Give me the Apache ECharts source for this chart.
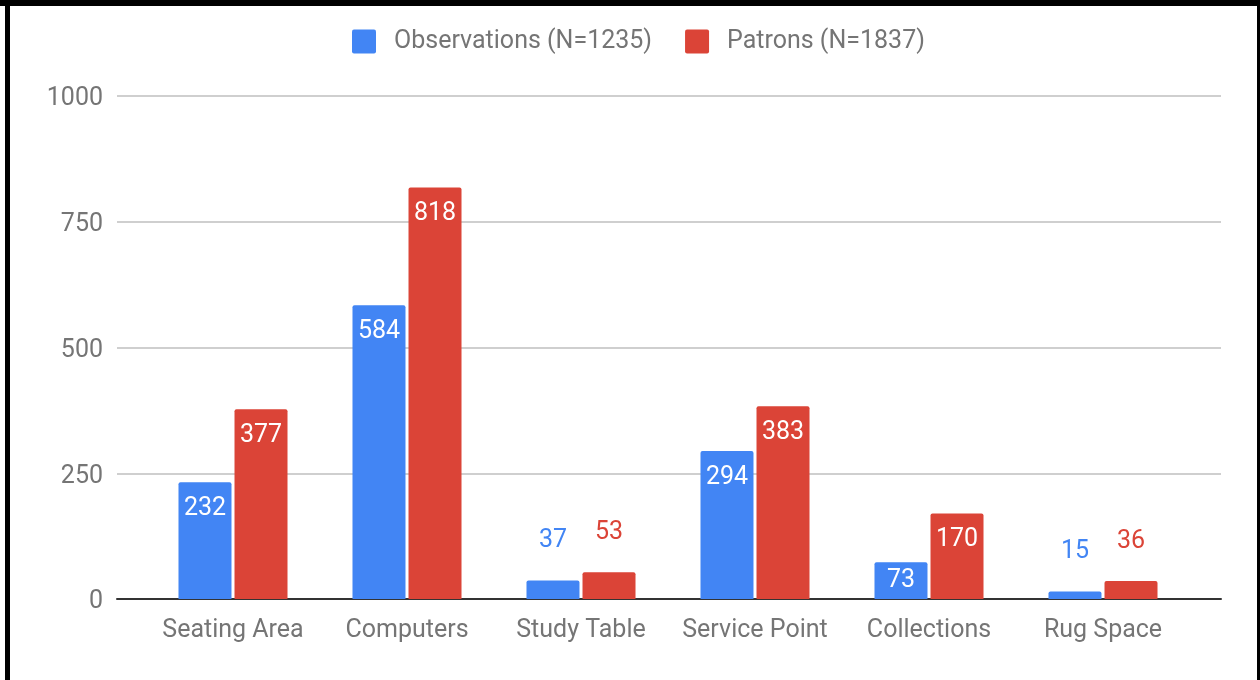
<!DOCTYPE html>
<html>
<head>
<meta charset="utf-8">
<script src="https://cdn.jsdelivr.net/npm/echarts@6/dist/echarts.min.js"></script>
<style>
  html, body { margin: 0; padding: 0; background: #fff; }
  #chart { width: 1260px; height: 680px; }
</style>
</head>
<body>
<div id="chart"></div>
<script>
// data
const categories = ['Seating Area', 'Computers', 'Study Table', 'Service Point', 'Collections', 'Rug Space'];
const observations = [232, 584, 37, 294, 73, 15];
const patrons = [377, 818, 53, 383, 170, 36];
const seriesNames = ['Observations (N=1235)', 'Patrons (N=1837)'];
const yTicks = [0, 250, 500, 750, 1000];

const BLUE = '#4285F4';
const RED = '#DB4437';
const GRAY = '#757575';
const FONT = 'Roboto';
const FS = 25;

// google-style labels: above small bars, inside the top of tall ones
function labelFor(v, color) {
    if (v < 60) {
        return { position: 'top', distance: 27, color: color };
    }
    if (v < 100) {
        return { position: 'inside', color: '#fff' };
    }
    return { position: 'insideTop', distance: 14, color: '#fff' };
}

function barSeries(name, values, color) {
    return {
        name: name,
        type: 'bar',
        xAxisIndex: 1,
        yAxisIndex: 1,
        barWidth: 53,
        barGap: '5.7%',
        itemStyle: { color: color, borderRadius: [2, 2, 0, 0] },
        label: { show: true, fontFamily: FONT, fontSize: FS },
        data: values.map(v => ({ value: v, label: labelFor(v, color) }))
    };
}

const chart = echarts.init(document.getElementById('chart'));
const option = {
    animation: false,
    textStyle: { fontFamily: FONT },
    legend: {
        top: 29,
        left: 352,
        padding: 0,
        itemWidth: 24,
        itemHeight: 24,
        itemGap: 33,
        icon: 'path://M2,0H22A2,2,0,0,1,24,2V22A2,2,0,0,1,22,24H2A2,2,0,0,1,0,22V2A2,2,0,0,1,2,0Z',
        textStyle: { fontFamily: FONT, fontSize: FS, color: GRAY, padding: [3, 0, 0, 13] },
        data: seriesNames
    },
    grid: [
        // gridlines + y labels span the full width
        { left: 117, right: 39, top: 96, bottom: 81 },
        // bars sit in a narrower band like google charts
        { left: 146, right: 70, top: 96, bottom: 81 }
    ],
    xAxis: [
        {
            gridIndex: 0,
            type: 'value',
            min: 0,
            max: 1,
            axisLine: { show: true, onZero: false, lineStyle: { color: '#333', width: 2 } },
            axisTick: { show: false },
            axisLabel: { show: false },
            splitLine: { show: false }
        },
        {
            gridIndex: 1,
            type: 'category',
            data: categories,
            axisLine: { show: false },
            axisTick: { show: false },
            axisLabel: { interval: 0, fontFamily: FONT, fontSize: FS, color: GRAY, margin: 19 }
        }
    ],
    yAxis: [
        {
            gridIndex: 0,
            type: 'value',
            min: yTicks[0],
            max: yTicks[yTicks.length - 1],
            interval: yTicks[1] - yTicks[0],
            axisLine: { show: false },
            axisTick: { show: false },
            axisLabel: {
                formatter: v => '{t|' + v + '}',
                margin: 14,
                rich: {
                    t: { fontFamily: FONT, fontSize: FS, color: GRAY, padding: [6, 0, 0, 0] }
                }
            },
            splitLine: { lineStyle: { color: '#cfcfcf', width: 2 } }
        },
        {
            gridIndex: 1,
            type: 'value',
            min: yTicks[0],
            max: yTicks[yTicks.length - 1],
            show: false
        }
    ],
    graphic: [
        // black frame from the screenshot
        { type: 'rect', shape: { x: 0, y: 0, width: 1260, height: 6 }, style: { fill: '#000' } },
        { type: 'rect', shape: { x: 5, y: 0, width: 5, height: 680 }, style: { fill: '#000' } },
        { type: 'rect', shape: { x: 1257, y: 0, width: 3, height: 680 }, style: { fill: '#000' } }
    ],
    series: [
        barSeries(seriesNames[0], observations, BLUE),
        barSeries(seriesNames[1], patrons, RED)
    ]
};
chart.setOption(option);
</script>
</body>
</html>
